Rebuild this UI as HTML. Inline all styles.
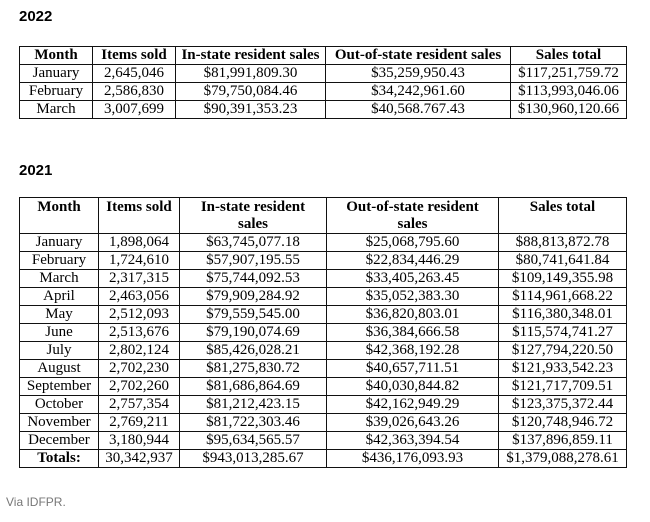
<!DOCTYPE html>
<html>
<head>
<meta charset="utf-8">
<style>
  html, body { margin:0; padding:0; background:#fff; }
  body { width:650px; height:522px; position:relative; overflow:hidden; }
  .title { position:absolute; left:19px; font-family:"Liberation Sans", Arial, sans-serif; font-weight:bold; font-size:15px; color:#000; line-height:15px; }
  table { position:absolute; left:19px; border-collapse:collapse; table-layout:fixed; font-family:"Liberation Serif", "Times New Roman", serif; font-size:15px; color:#000; }
  td, th { border:1px solid #111; padding:0; text-align:center; line-height:17px; height:17px; white-space:nowrap; overflow:visible; }
  th { font-weight:bold; }
  .t21 th { vertical-align:top; line-height:17px; height:35px; padding-top:1px; white-space:normal; box-sizing:border-box; }
  .tot td:first-child { font-weight:bold; }
  .via { position:absolute; left:6px; top:495px; font-family:"Liberation Sans", Arial, sans-serif; font-size:12px; color:#777; }
</style>
</head>
<body>
<div class="title" style="top:9px;">2022</div>
<table style="top:46px; width:607px;">
  <colgroup><col style="width:73px"><col style="width:83px"><col style="width:150px"><col style="width:185px"><col style="width:116px"></colgroup>
  <tr><th>Month</th><th>Items sold</th><th>In-state resident sales</th><th>Out-of-state resident sales</th><th>Sales total</th></tr>
  <tr><td>January</td><td>2,645,046</td><td>$81,991,809.30</td><td>$35,259,950.43</td><td>$117,251,759.72</td></tr>
  <tr><td>February</td><td>2,586,830</td><td>$79,750,084.46</td><td>$34,242,961.60</td><td>$113,993,046.06</td></tr>
  <tr><td>March</td><td>3,007,699</td><td>$90,391,353.23</td><td>$40,568.767.43</td><td>$130,960,120.66</td></tr>
</table>

<div class="title" style="top:163px;">2021</div>
<table class="t21" style="top:197px; width:607px;">
  <colgroup><col style="width:79px"><col style="width:81px"><col style="width:147px"><col style="width:172px"><col style="width:128px"></colgroup>
  <tr><th>Month</th><th>Items sold</th><th>In-state resident<br>sales</th><th>Out-of-state resident<br>sales</th><th>Sales total</th></tr>
  <tr><td>January</td><td>1,898,064</td><td>$63,745,077.18</td><td>$25,068,795.60</td><td>$88,813,872.78</td></tr>
  <tr><td>February</td><td>1,724,610</td><td>$57,907,195.55</td><td>$22,834,446.29</td><td>$80,741,641.84</td></tr>
  <tr><td>March</td><td>2,317,315</td><td>$75,744,092.53</td><td>$33,405,263.45</td><td>$109,149,355.98</td></tr>
  <tr><td>April</td><td>2,463,056</td><td>$79,909,284.92</td><td>$35,052,383.30</td><td>$114,961,668.22</td></tr>
  <tr><td>May</td><td>2,512,093</td><td>$79,559,545.00</td><td>$36,820,803.01</td><td>$116,380,348.01</td></tr>
  <tr><td>June</td><td>2,513,676</td><td>$79,190,074.69</td><td>$36,384,666.58</td><td>$115,574,741.27</td></tr>
  <tr><td>July</td><td>2,802,124</td><td>$85,426,028.21</td><td>$42,368,192.28</td><td>$127,794,220.50</td></tr>
  <tr><td>August</td><td>2,702,230</td><td>$81,275,830.72</td><td>$40,657,711.51</td><td>$121,933,542.23</td></tr>
  <tr><td>September</td><td>2,702,260</td><td>$81,686,864.69</td><td>$40,030,844.82</td><td>$121,717,709.51</td></tr>
  <tr><td>October</td><td>2,757,354</td><td>$81,212,423.15</td><td>$42,162,949.29</td><td>$123,375,372.44</td></tr>
  <tr><td>November</td><td>2,769,211</td><td>$81,722,303.46</td><td>$39,026,643.26</td><td>$120,748,946.72</td></tr>
  <tr><td>December</td><td>3,180,944</td><td>$95,634,565.57</td><td>$42,363,394.54</td><td>$137,896,859.11</td></tr>
  <tr class="tot"><td>Totals:</td><td>30,342,937</td><td>$943,013,285.67</td><td>$436,176,093.93</td><td>$1,379,088,278.61</td></tr>
</table>

<div class="via">Via IDFPR.</div>
</body>
</html>
